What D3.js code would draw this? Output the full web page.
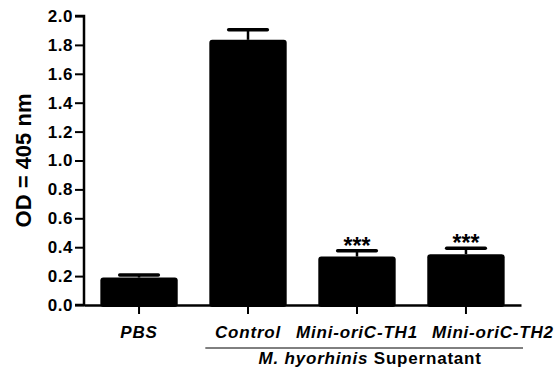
<!DOCTYPE html>
<html>
<head>
<meta charset="utf-8">
<script src="https://cdn.jsdelivr.net/npm/d3@7"></script>
<style>
  body { margin: 0; background: #fff; }
  svg text { font-family: "Liberation Sans", Arial, sans-serif; font-weight: bold; }
</style>
</head>
<body>
<div id="chart"></div>
<script>
const categories = ['PBS', 'Control', 'Mini-oriC-TH1', 'Mini-oriC-TH2'];
const means = [0.19, 1.835, 0.335, 0.352];
const errors = [0.017, 0.07, 0.04, 0.04];
const marks = ['', '', '***', '***'];
const yTicks = [0, 0.2, 0.4, 0.6, 0.8, 1.0, 1.2, 1.4, 1.6, 1.8, 2.0];

const width = 556;
const height = 372;
const margin = {top: 16, bottom: 67, left: 84, right: 35};
const plotW = width - margin.left - margin.right;
const plotH = height - margin.top - margin.bottom;

const x = d3.scaleBand()
    .domain(categories)
    .range([0, plotW])
    .paddingInner(0.29)
    .paddingOuter(0.15);

const y = d3.scaleLinear()
    .domain([0, 2])
    .range([plotH, 0]);

const svg = d3.select('#chart')
    .append('svg')
    .attr('width', width)
    .attr('height', height)
    .append('g')
    .attr('transform', `translate(${margin.left},${margin.top})`);

// bars
svg.selectAll('rect.bar')
    .data(categories)
    .enter()
    .append('rect')
    .attr('class', 'bar')
    .attr('x', d => x(d))
    .attr('y', (d, i) => y(means[i]))
    .attr('width', x.bandwidth())
    .attr('height', (d, i) => y(0) - y(means[i]) + 2)
    .attr('rx', 3)
    .attr('fill', '#000');

// error bars (upper only)
const capW = x.bandwidth() * 0.5;
const err = svg.selectAll('g.err')
    .data(categories)
    .enter()
    .append('g')
    .attr('class', 'err');

err.append('line')
    .attr('x1', d => x(d) + x.bandwidth() / 2)
    .attr('x2', d => x(d) + x.bandwidth() / 2)
    .attr('y1', (d, i) => y(means[i]))
    .attr('y2', (d, i) => y(means[i] + errors[i]))
    .attr('stroke', '#000')
    .attr('stroke-width', 2.5);

err.append('line')
    .attr('x1', d => x(d) + x.bandwidth() / 2 - capW / 2)
    .attr('x2', d => x(d) + x.bandwidth() / 2 + capW / 2)
    .attr('y1', (d, i) => y(means[i] + errors[i]))
    .attr('y2', (d, i) => y(means[i] + errors[i]))
    .attr('stroke', '#000')
    .attr('stroke-width', 3.5)
    .attr('stroke-linecap', 'round');

// significance stars
svg.selectAll('text.sig')
    .data(categories)
    .enter()
    .append('text')
    .attr('class', 'sig')
    .attr('x', d => x(d) + x.bandwidth() / 2)
    .attr('y', (d, i) => y(means[i] + errors[i]) + 3)
    .attr('text-anchor', 'middle')
    .attr('font-size', 23)
    .text((d, i) => marks[i]);

// axes
const yAxis = d3.axisLeft(y)
    .tickValues(yTicks)
    .tickFormat(d3.format('.1f'))
    .tickSize(9)
    .tickPadding(2);

const gy = svg.append('g')
    .attr('class', 'y axis')
    .call(yAxis);
gy.select('.domain').attr('stroke-width', 2.5).attr('d', `M-9,0H0V${plotH}H-9`);
gy.selectAll('.tick line').attr('stroke-width', 2);
gy.selectAll('.tick text').attr('font-size', 17).attr('letter-spacing', 0.5).attr('fill', '#000');

const xAxis = d3.axisBottom(x)
    .tickSize(9)
    .tickSizeOuter(0)
    .tickPadding(10);

const gx = svg.append('g')
    .attr('class', 'x axis')
    .attr('transform', `translate(0,${plotH})`)
    .call(xAxis);
gx.select('.domain').attr('stroke-width', 2.5);
gx.selectAll('.tick line').attr('stroke-width', 2);
gx.selectAll('.tick text')
    .attr('font-size', 17)
    .attr('letter-spacing', 0.8)
    .attr('font-style', 'italic')
    .attr('fill', '#000')
    .attr('y', 33)
    .attr('dy', 0);

// push labels right when they would run into the previous one
let prevRight = -Infinity;
gx.selectAll('.tick').each(function () {
    const tick = d3.select(this);
    const text = tick.select('text');
    const tx = +tick.attr('transform').match(/translate\(([-\d.]+)/)[1];
    const box = text.node().getBBox();
    const left = tx + box.x;
    const gap = 14;
    if (left < prevRight + gap) {
        const shift = prevRight + gap - left;
        text.attr('x', shift);
        prevRight = tx + box.x + box.width + shift;
    } else {
        prevRight = tx + box.x + box.width;
    }
});

// group bracket under the three supernatant categories
const groupStart = x('Control') - 4;
const groupEnd = plotW + 2;
svg.append('line')
    .attr('x1', groupStart)
    .attr('x2', groupEnd)
    .attr('y1', plotH + 43)
    .attr('y2', plotH + 43)
    .attr('stroke', '#000')
    .attr('stroke-width', 1);

const groupLabel = svg.append('text')
    .attr('x', (groupStart + groupEnd) / 2 + 6)
    .attr('y', plotH + 59)
    .attr('text-anchor', 'middle')
    .attr('font-size', 17)
    .attr('letter-spacing', 0.8)
    .attr('fill', '#000');
groupLabel.append('tspan').attr('font-style', 'italic').text('M. hyorhinis');
groupLabel.append('tspan').text(' Supernatant');

// y title
svg.append('text')
    .attr('transform', `translate(${-53},${plotH / 2}) rotate(-90)`)
    .attr('text-anchor', 'middle')
    .attr('font-size', 22)
    .attr('fill', '#000')
    .text('OD = 405 nm');
</script>
</body>
</html>
